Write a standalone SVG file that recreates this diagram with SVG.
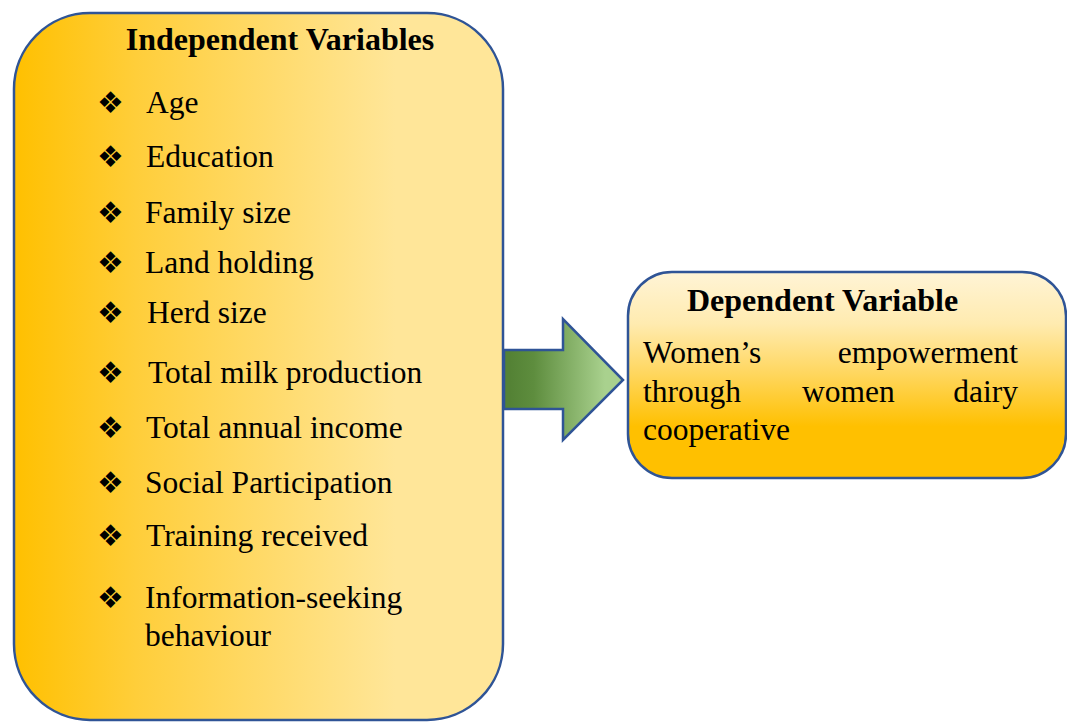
<svg xmlns="http://www.w3.org/2000/svg" width="1067" height="722" viewBox="0 0 1067 722">
  <defs>
    <linearGradient id="gradLeft" x1="0" y1="0" x2="1" y2="0">
      <stop offset="0" stop-color="#FFC000"/>
      <stop offset="0.25" stop-color="#FFCE3A"/>
      <stop offset="0.78" stop-color="#FFE699"/>
      <stop offset="1" stop-color="#FFE699"/>
    </linearGradient>
    <linearGradient id="gradRight" x1="0" y1="0" x2="0" y2="1">
      <stop offset="0" stop-color="#FFF4D6"/>
      <stop offset="0.25" stop-color="#FFEBB0"/>
      <stop offset="0.5" stop-color="#FFD65C"/>
      <stop offset="0.75" stop-color="#FFC000"/>
      <stop offset="1" stop-color="#FFC000"/>
    </linearGradient>
    <linearGradient id="gradArrow" gradientUnits="userSpaceOnUse" x1="510" y1="0" x2="605" y2="0">
      <stop offset="0" stop-color="#548235"/>
      <stop offset="0.25" stop-color="#5E8D3E"/>
      <stop offset="1" stop-color="#A9D18E"/>
    </linearGradient>
  </defs>
  <style>
    .box { stroke: #2F5496; stroke-width: 2.5; }
    .head { font-family: "Liberation Serif", "Times New Roman", serif; font-weight: bold; font-size: 32px; fill: #000; }
    .item { font-family: "Liberation Serif", "Times New Roman", serif; font-size: 31.5px; fill: #000; }
    .bullet { font-family: "DejaVu Sans", sans-serif; font-size: 30px; fill: #000; }
  </style>

  <rect width="1067" height="722" fill="#FFFFFF"/>

  <!-- Independent variables -->
  <g id="independent">
    <rect class="box" x="14" y="13" width="489" height="707" rx="76" ry="76" fill="url(#gradLeft)"/>
    <text class="head" x="280" y="50" text-anchor="middle">Independent Variables</text>
    <g class="bullet">
      <text x="97" y="113">❖</text>
      <text x="97" y="167">❖</text>
      <text x="97" y="223">❖</text>
      <text x="97" y="273">❖</text>
      <text x="97" y="323">❖</text>
      <text x="97" y="383">❖</text>
      <text x="97" y="438">❖</text>
      <text x="97" y="493">❖</text>
      <text x="97" y="546">❖</text>
      <text x="97" y="608">❖</text>
    </g>
    <g class="item">
      <text x="146" y="113">Age</text>
      <text x="146" y="167">Education</text>
      <text x="145" y="223">Family size</text>
      <text x="145" y="273">Land holding</text>
      <text x="147" y="323">Herd size</text>
      <text x="148" y="383">Total milk production</text>
      <text x="146" y="438">Total annual income</text>
      <text x="145" y="493">Social Participation</text>
      <text x="146" y="546">Training received</text>
      <text x="145" y="608">Information-seeking</text>
      <text x="145" y="646">behaviour</text>
    </g>
  </g>

  <!-- Connector -->
  <g id="connectors">
    <polygon class="box" points="504,350 563,350 563,319 623,380 563,440 563,409 504,409" fill="url(#gradArrow)" stroke-linejoin="miter"/>
  </g>

  <!-- Dependent variable -->
  <g id="dependent">
    <rect class="box" x="628" y="272" width="438" height="206" rx="44" ry="44" fill="url(#gradRight)"/>
    <text class="head" x="687" y="311">Dependent Variable</text>
    <g class="item">
      <text x="643" y="363">Women’s</text>
      <text x="1018" y="363" text-anchor="end">empowerment</text>
      <text x="643" y="402">through</text>
      <text x="802" y="402">women</text>
      <text x="1018" y="402" text-anchor="end">dairy</text>
      <text x="643" y="440">cooperative</text>
    </g>
  </g>
</svg>
